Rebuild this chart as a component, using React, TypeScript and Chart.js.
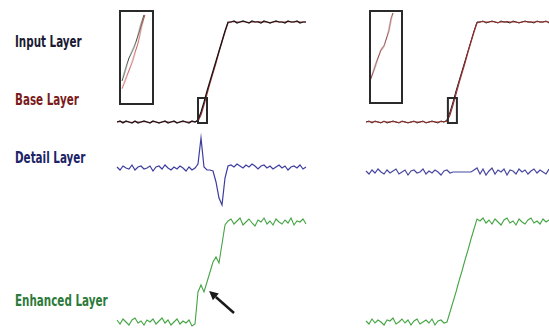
import React, { useEffect, useRef } from "react";
import { Chart, registerables } from "chart.js";

Chart.register(...registerables);

// sample positions along each signal
const sampleIndex = Array.from({ length: 64 }, (_, i) => i);

// Input / base layers (levels, 0 = low plateau, 100 = high plateau)
const inputLevels = [
  0, 1, -1, 1, 0, -1, 1, -1, 0, 1, 0, -1, 1, 0, -1, 0, 1, -1, 0, 1, -1, 0, 1, 0, -1, 1, 0,
  2, 10, 20, 31, 41, 51, 61, 71, 81, 91, 100,
  100, 101, 99, 100, 101, 100, 99, 101, 100, 100, 99, 101, 100, 99, 100, 101, 100, 100, 99, 101, 100, 100, 101, 99, 100, 100,
];
const baseLevels = [
  0, 0.5, 0, 0.5, 0, -0.5, 0.5, 0, 0, 0.5, 0, -0.5, 0.5, 0, -0.5, 0, 0.5, 0, 0, 0.5, -0.5, 0, 0.5, 0, 0, 0.5, 0,
  1, 7, 17, 28, 39, 49, 59, 70, 80, 90, 99,
  100, 100.5, 100, 100, 100.5, 100, 99.5, 100, 100, 100.5, 100, 100, 100, 99.5, 100, 100.5, 100, 100, 100, 100.5, 100, 100, 100.5, 100, 100, 100,
];

// Detail layers
const leftDetail = [
  1, -2, 2, 0, -1, 3, -2, 1, 2, -1, 0, 2, -3, 1, 2, -1, 3, 0, -2, 1, -1, 2, 0, -3, 1, -2, 0,
  4, 30, 1, -2, -2, -3, -14, -30, -37, -10, 2,
  3, 1, 4, 2, 0, 3, 1, 4, 2, -1, 2, 3, 0, 2, -1, 1, 3, 0, 2, -2, 1, 2, 0, 3, -1, 1,
];
const rightDetail = [
  1, -2, 2, -1, 3, 0, -2, 2, -1, 1, 3, -2, 0, 2, -3, 1, 2, -1, 0, 3, -2, 1, -1, 2, 0, -3, 1, 2, -1, 0,
  0, 0, 0, 0, 0, 0,
  2, 4, -2, 3, -3, 1, 4, -2, 2, 0, 3, -3, 2, 1, -2, 3, 0, 2, -2, 1, 3, -1, 2, 0, -2, 3, 1, -1,
];

// Enhanced layers
const leftEnhanced = [
  2, -2, 3, 0, -3, 2, 4, -1, 1, -3, 2, 0, 3, -2, 1, 4, -1, 2, -3, 0, 3, -2, 1, -1, 2, -4, -2,
  30, 37, 30, 40, 50, 60, 65, 59, 78, 97, 101,
  103, 98, 101, 104, 97, 100, 103, 99, 96, 102, 100, 104, 98, 101, 97, 103, 100, 98, 102, 99, 104, 97, 101, 100, 103, 98,
];
const rightEnhanced = [
  1, -2, 3, -1, 2, 0, -3, 2, 1, 4, -2, 0, 3, -1, 2, -3, 1, 3, -2, 0, 2, -1, 3, -3, 1, 2, -1,
  0, 10, 20, 30, 41, 51, 62, 72, 83, 93, 103,
  101, 104, 99, 102, 98, 103, 100, 97, 102, 104, 99, 101, 97, 103, 100, 98, 102, 104, 99, 101, 98, 103, 100, 102, 99, 101,
];

// Zoomed insets (local 0..100 units of the inset frame)
const leftInsetInputX = [7.7, 28.2, 43.6, 48.7, 61.5, 71.8];
const leftInsetInputY = [25.3, 49.5, 61.6, 66.7, 82.8, 95];
const leftInsetBaseX = [7.7, 23, 38.5, 53.8, 64.1, 74.4];
const leftInsetBaseY = [17.2, 31.3, 46.5, 64.6, 81.8, 95];
const rightInsetBaseX = [2.6, 21.1, 34.2, 44.7, 57.9, 65.8, 71.1];
const rightInsetBaseY = [24.5, 43.9, 57.1, 62.2, 77.6, 91.8, 96.9];

// zoom region on the step (sample index / level)
const leftZoomRegion = [27, 30, -1, 24];
const rightZoomRegion = [27.3, 30.3, -1, 24];
// arrow on enhanced layer: tail (index, level) -> tip (index, level)
const arrowTail = [39, 9];
const arrowTip = [30.7, 31];

const layerLabels = ["Input Layer", "Base Layer", "Detail Layer", "Enhanced Layer"];

const COLORS = {
  input: "#151515",
  base: "#a83838",
  detail: "#3d3da0",
  enhanced: "#45a545",
  frame: "#2a2a2a",
};

type Series = { x: number[]; y: number[]; color: string; width: number };

type PlotProps = {
  left: number;
  top: number;
  width: number;
  height: number;
  xMin: number;
  xMax: number;
  yMin: number;
  yMax: number;
  series: Series[];
  box?: number[];
  arrow?: { from: number[]; to: number[] };
  frame?: boolean;
};

function Plot(props: PlotProps) {
  const ref = useRef<HTMLCanvasElement>(null);
  useEffect(() => {
    const { xMin, xMax, yMin, yMax, series, box, arrow } = props;
    const marks = {
      id: "marks",
      afterDatasetsDraw(chart: any) {
        const ctx = chart.ctx;
        const sx = chart.scales.x;
        const sy = chart.scales.y;
        ctx.save();
        if (box) {
          const x0 = sx.getPixelForValue(box[0]);
          const x1 = sx.getPixelForValue(box[1]);
          const y0 = sy.getPixelForValue(box[3]);
          const y1 = sy.getPixelForValue(box[2]);
          ctx.strokeStyle = COLORS.frame;
          ctx.lineWidth = 2;
          ctx.strokeRect(x0, y0, x1 - x0, y1 - y0);
        }
        if (arrow) {
          const tx = sx.getPixelForValue(arrow.from[0]);
          const ty = sy.getPixelForValue(arrow.from[1]);
          const hx = sx.getPixelForValue(arrow.to[0]);
          const hy = sy.getPixelForValue(arrow.to[1]);
          const ang = Math.atan2(hy - ty, hx - tx);
          const headLen = 9;
          const bx = hx - headLen * Math.cos(ang);
          const by = hy - headLen * Math.sin(ang);
          ctx.strokeStyle = "#1a1a1a";
          ctx.fillStyle = "#1a1a1a";
          ctx.lineWidth = 2.5;
          ctx.beginPath();
          ctx.moveTo(tx, ty);
          ctx.lineTo(bx, by);
          ctx.stroke();
          ctx.beginPath();
          ctx.moveTo(hx, hy);
          ctx.lineTo(bx + 4.5 * Math.sin(ang), by - 4.5 * Math.cos(ang));
          ctx.lineTo(bx - 4.5 * Math.sin(ang), by + 4.5 * Math.cos(ang));
          ctx.closePath();
          ctx.fill();
        }
        ctx.restore();
      },
    };
    const chart = new Chart(ref.current as HTMLCanvasElement, {
      type: "scatter",
      data: {
        datasets: series.map((s) => ({
          data: s.x.map((x, i) => ({ x, y: s.y[i] })),
          showLine: true,
          borderColor: s.color,
          backgroundColor: s.color,
          borderWidth: s.width,
          pointRadius: 0,
          tension: 0,
          fill: false,
        })),
      },
      options: {
        animation: false,
        responsive: false,
        devicePixelRatio: 1,
        events: [],
        layout: { padding: 0 },
        plugins: { legend: { display: false }, tooltip: { enabled: false } },
        scales: {
          x: { type: "linear", display: false, min: xMin, max: xMax },
          y: { type: "linear", display: false, min: yMin, max: yMax },
        },
      },
      plugins: [marks],
    } as any);
    return () => chart.destroy();
  }, []);
  return (
    <canvas
      ref={ref}
      width={props.width}
      height={props.height}
      style={{
        position: "absolute",
        left: props.left,
        top: props.top,
        width: props.width,
        height: props.height,
        border: props.frame ? `2px solid ${COLORS.frame}` : undefined,
      }}
    />
  );
}

const labelStyle = (top: number, color: string): React.CSSProperties => ({
  position: "absolute",
  left: 15,
  top,
  fontFamily: '"DejaVu Sans Condensed", "DejaVu Sans", sans-serif',
  fontWeight: "bold",
  fontSize: 16,
  lineHeight: "16px",
  color,
  whiteSpace: "nowrap",
  transform: "scaleX(0.72)",
  transformOrigin: "0 0",
});

export default function App() {
  const labelTops = [34, 92, 150, 293];
  const labelColors = ["#1a1a33", "#7a1c1c", "#1c2466", "#2d7a3a"];
  return (
    <div
      style={{
        position: "fixed",
        left: 0,
        top: 0,
        width: 549,
        height: 335,
        overflow: "hidden",
        background: "#ffffff",
      }}
    >
      {layerLabels.map((t, i) => (
        <div key={t} style={labelStyle(labelTops[i], labelColors[i])}>
          {t}
        </div>
      ))}

      {/* left panel */}
      <Plot
        left={114} top={12} width={195} height={120}
        xMin={-1} xMax={64} yMin={-10} yMax={110}
        series={[
          { x: sampleIndex, y: inputLevels, color: COLORS.input, width: 1.2 },
          { x: sampleIndex, y: baseLevels, color: COLORS.base, width: 1.2 },
        ]}
        box={leftZoomRegion}
      />
      <Plot
        left={119} top={10} width={35} height={95}
        xMin={5} xMax={95} yMin={2} yMax={98}
        frame
        series={[
          { x: leftInsetInputX, y: leftInsetInputY, color: "#2a3a2a", width: 1 },
          { x: leftInsetBaseX, y: leftInsetBaseY, color: "#c04848", width: 1 },
        ]}
      />
      <Plot
        left={114} top={133} width={195} height={80}
        xMin={-1} xMax={64} yMin={-45} yMax={35}
        series={[{ x: sampleIndex, y: leftDetail, color: COLORS.detail, width: 1.2 }]}
      />
      <Plot
        left={114} top={210} width={195} height={122}
        xMin={-1} xMax={64} yMin={-10} yMax={112}
        series={[{ x: sampleIndex, y: leftEnhanced, color: COLORS.enhanced, width: 1.1 }]}
        arrow={{ from: arrowTail, to: arrowTip }}
      />

      {/* right panel */}
      <Plot
        left={363} top={12} width={186} height={120}
        xMin={-1} xMax={61} yMin={-10} yMax={110}
        series={[
          { x: sampleIndex, y: baseLevels, color: "#9a3030", width: 1.2 },
          { x: sampleIndex, y: inputLevels, color: COLORS.input, width: 1 },
        ]}
        box={rightZoomRegion}
      />
      <Plot
        left={369} top={10} width={34} height={94}
        xMin={5.3} xMax={94.7} yMin={2} yMax={98}
        frame
        series={[{ x: rightInsetBaseX, y: rightInsetBaseY, color: "#8a3a3a", width: 1.1 }]}
      />
      <Plot
        left={363} top={137} width={186} height={80}
        xMin={-1} xMax={61} yMin={-45} yMax={35}
        series={[{ x: sampleIndex, y: rightDetail, color: "#4848a0", width: 1.2 }]}
      />
      <Plot
        left={363} top={210} width={186} height={122}
        xMin={-1} xMax={61} yMin={-10} yMax={112}
        series={[{ x: sampleIndex, y: rightEnhanced, color: COLORS.enhanced, width: 1.1 }]}
      />
    </div>
  );
}
